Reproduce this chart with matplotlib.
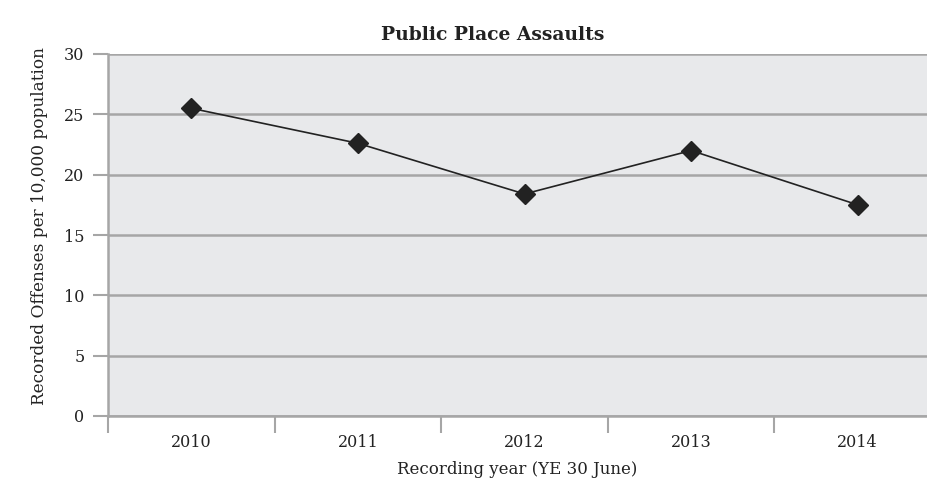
import numpy as np
import matplotlib
matplotlib.use("Agg")
import matplotlib.pyplot as plt

# Recorded public place assaults per 10,000 population, by recording year
years = ["2010", "2011", "2012", "2013", "2014"]
offenses = [25.5, 22.6, 18.4, 22.0, 17.5]
y_ticks = [0, 5, 10, 15, 20, 25, 30]

plt.rcParams["font.family"] = ["DejaVu Serif"]

fig = plt.figure(figsize=(9.27, 5.0), dpi=100)
W, H = 927, 500
# plot area runs slightly past the right edge of the figure
ax = fig.add_axes([108 / W, 1 - 416 / H, 833 / W, 362 / H])
ax.set_facecolor("#e8e9eb")

x = np.arange(len(years))
ax.plot(x, offenses, color="#222222", lw=1.2, marker="D", ms=10,
        mfc="#222222", mec="#222222", zorder=3)

ax.set_xlim(-0.5, len(years) - 0.5)
ax.set_ylim(0, 30)
ax.set_yticks(y_ticks)
ax.set_yticklabels([str(v) for v in y_ticks])
ax.set_xticks(x)
ax.set_xticklabels(years)
ax.set_xticks(np.arange(len(years) + 1) - 0.5, minor=True)

ax.grid(axis="y", color="#a6a6a6", lw=1.8)
ax.set_axisbelow(True)
for side in ["top", "right"]:
    ax.spines[side].set_visible(False)
for side in ["left", "bottom"]:
    ax.spines[side].set_color("#a6a6a6")
    ax.spines[side].set_linewidth(1.8)

ax.tick_params(axis="y", length=11, width=1.5, color="#a6a6a6",
               labelsize=11.5, labelcolor="#222222", pad=6)
ax.tick_params(axis="x", which="major", length=0, labelsize=11.5,
               labelcolor="#222222", pad=13)
ax.tick_params(axis="x", which="minor", length=12, width=1.5, color="#a6a6a6")

fig.text(493 / W, 1 - 35 / H, "Public Place Assaults", ha="center", va="center",
         fontsize=13.5, fontweight="bold", color="#222222")
fig.text(40 / W, 1 - 226 / H, "Recorded Offenses per 10,000 population",
         rotation=90, ha="center", va="center", fontsize=12.2, color="#222222")
fig.text(517 / W, 1 - 470 / H, "Recording year (YE 30 June)",
         ha="center", va="center", fontsize=12, color="#222222")

fig.savefig("out.png", dpi=100)
